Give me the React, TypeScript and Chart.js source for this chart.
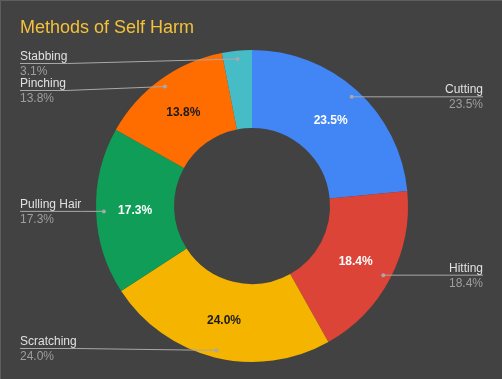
import React, { useEffect, useRef } from "react";
import { Chart, registerables } from "chart.js";

Chart.register(...registerables);

const categories = ["Cutting", "Hitting", "Scratching", "Pulling Hair", "Pinching", "Stabbing"];
const values = [23.5, 18.4, 24.0, 17.3, 13.8, 3.1];
const sliceColors = ["#4285F4", "#DB4437", "#F4B400", "#0F9D58", "#FF6D01", "#46BDC6"];
const insideTextColors = ["#ffffff", "#ffffff", "#1a1a1a", "#ffffff", "#1a1a1a", "#ffffff"];
const titleText = "Methods of Self Harm";

const FONT = "'Liberation Sans', Arial, sans-serif";
const BG = "#424242";

const fmt = (v: number) => v.toFixed(1) + "%";

const labelsPlugin = {
  id: "googleLikeLabels",
  beforeDraw(chart: any) {
    const ctx = chart.ctx;
    ctx.save();
    ctx.fillStyle = BG;
    ctx.fillRect(0, 0, chart.width, chart.height);
    ctx.fillStyle = "#5e5e5e";
    ctx.fillRect(0, 0, chart.width, 1);
    ctx.fillRect(0, 0, 1, chart.height);
    ctx.restore();
  },
  afterDraw(chart: any) {
    const ctx = chart.ctx;
    const meta = chart.getDatasetMeta(0);
    ctx.save();

    // Title
    ctx.font = `18px ${FONT}`;
    ctx.fillStyle = "#F3C13A";
    ctx.textAlign = "left";
    ctx.textBaseline = "alphabetic";
    ctx.fillText(titleText, 20, 33);

    // Inside labels
    ctx.font = `bold 12px ${FONT}`;
    ctx.textAlign = "center";
    ctx.textBaseline = "middle";
    meta.data.forEach((arc: any, i: number) => {
      if (values[i] < 5) return;
      const p = arc.tooltipPosition();
      ctx.fillStyle = insideTextColors[i];
      ctx.fillText(fmt(values[i]), p.x, p.y + 1);
    });

    // Outside labels
    type L = { i: number; dx: number; dy: number; y: number; left: boolean };
    const items: L[] = [];
    meta.data.forEach((arc: any, i: number) => {
      const mid = (arc.startAngle + arc.endAngle) / 2;
      const r = arc.outerRadius * 0.95;
      const dx = arc.x + Math.cos(mid) * r;
      const dy = arc.y + Math.sin(mid) * r;
      items.push({ i, dx, dy, y: dy, left: dx < arc.x });
    });
    const minY = 63;
    const maxY = 348;
    const gap = 27;
    [true, false].forEach((side) => {
      const group = items.filter((it) => it.left === side).sort((a, b) => a.dy - b.dy);
      let prev = -Infinity;
      group.forEach((it) => {
        it.y = Math.max(it.dy, prev + gap, minY);
        prev = it.y;
      });
      let next = Infinity;
      for (let k = group.length - 1; k >= 0; k--) {
        const it = group[k];
        it.y = Math.min(it.y, next - gap, maxY);
        next = it.y;
      }
    });

    const leftX = 20;
    const rightX = 483;
    items.forEach((it) => {
      const name = categories[it.i];
      const val = fmt(values[it.i]);
      ctx.font = `12px ${FONT}`;
      const w = Math.max(ctx.measureText(name).width, ctx.measureText(val).width);
      ctx.strokeStyle = "#a8a8a8";
      ctx.lineWidth = 1;
      ctx.beginPath();
      if (it.left) {
        ctx.moveTo(leftX, it.y + 0.5);
        ctx.lineTo(leftX + w, it.y + 0.5);
        ctx.lineTo(it.dx, it.dy + 0.5);
      } else {
        ctx.moveTo(rightX, it.y + 0.5);
        ctx.lineTo(rightX - w, it.y + 0.5);
        ctx.lineTo(it.dx, it.dy + 0.5);
      }
      ctx.stroke();
      ctx.fillStyle = "#a8a8a8";
      ctx.beginPath();
      ctx.arc(it.dx, it.dy + 0.5, 2, 0, Math.PI * 2);
      ctx.fill();

      ctx.textAlign = it.left ? "left" : "right";
      ctx.textBaseline = "alphabetic";
      const tx = it.left ? leftX : rightX;
      ctx.fillStyle = "#e0e0e0";
      ctx.fillText(name, tx, it.y - 3);
      ctx.fillStyle = "#9e9e9e";
      ctx.fillText(val, tx, it.y + 12);
    });

    ctx.restore();
  },
};

export default function App() {
  const ref = useRef<HTMLCanvasElement | null>(null);
  useEffect(() => {
    document.body.style.margin = "0";
    document.body.style.background = BG;
    if (!ref.current) return;
    const chart = new Chart(ref.current, {
      type: "doughnut",
      data: {
        labels: categories,
        datasets: [
          {
            data: values,
            backgroundColor: sliceColors,
            borderWidth: 0,
          },
        ],
      },
      options: {
        responsive: false,
        animation: false,
        cutout: "50%",
        layout: { padding: { top: 50, bottom: 17, left: 96, right: 94 } },
        plugins: {
          legend: { display: false },
          tooltip: { enabled: false },
          title: { display: false },
        },
        events: [],
      },
      plugins: [labelsPlugin],
    });
    return () => chart.destroy();
  }, []);
  return (
    <div style={{ width: 502, height: 379 }}>
      <canvas ref={ref} width={502} height={379} />
    </div>
  );
}
